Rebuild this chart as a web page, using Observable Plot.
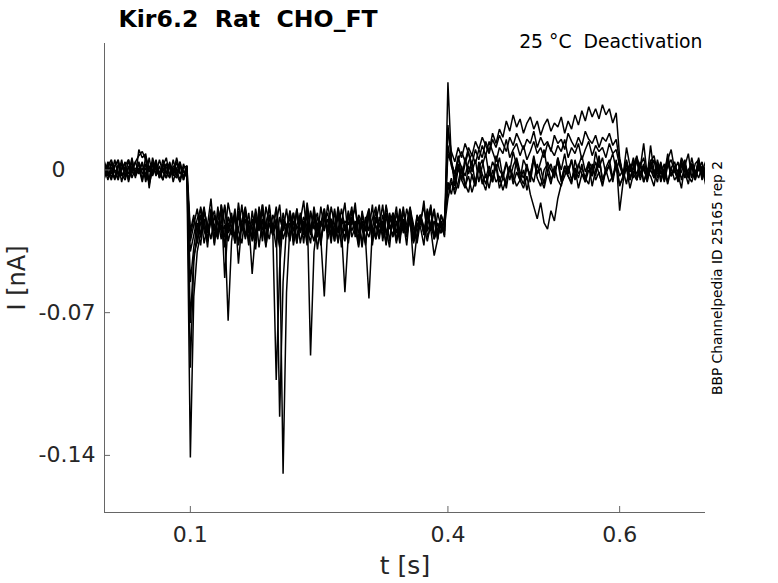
<!DOCTYPE html>
<html>
<head>
<meta charset="utf-8">
<script src="https://cdn.jsdelivr.net/npm/d3@7"></script>
<script src="https://cdn.jsdelivr.net/npm/@observablehq/plot@0.6"></script>
<style>
  html, body { margin: 0; padding: 0; background: #fff; }
  svg text { white-space: pre; }
</style>
</head>
<body>
<div id="chart"></div>
<script>
// ---- chart text ----
const title = "Kir6.2  Rat  CHO_FT";
const conditionLabel = "25 °C  Deactivation";
const sourceLabel = "BBP Channelpedia ID 25165 rep 2";
const xLabel = "t [s]";
const yLabel = "I [nA]";

// ---- axes ----
const xDomain = [0, 0.7];
const yDomain = [-0.168, 0.062];
const xTicks = [0.1, 0.4, 0.6];
const yTicks = [0, -0.07, -0.14];

// ---- sampling of each segment (s) ----
const sampleStep = 0.004;
const preStart = 0.0;    // holding
const stepStart = 0.1;   // test pulse
const postStart = 0.4;   // deactivation

// ---- current values (pA) ----
const pre1 = [2,-3,4,-1,-5,3,0,-4,5,-2,1,-6,3,-1,4,-3,2,-5,1,3,-2,-4,2,-1,-3];
const pre2 = [-4,1,-2,5,-3,0,4,-6,2,-1,3,-5,7,1,-2,4,-4,0,3,-3,5,-2,-6,1,2];
const pre3 = [3,-1,-5,2,4,-3,1,-2,6,-4,10,6,8,-9,3,-2,5,-1,-4,2,0,-3,4,-5,1];
const pre4 = [-2,4,1,-4,3,-6,2,5,-1,-3,4,-2,1,-5,6,0,-3,3,-2,4,-6,1,3,-4,0];
const pre5 = [1,-5,3,0,-2,5,-4,2,-1,4,7,9,5,-7,0,3,-4,2,6,-3,1,-2,4,-5,2];
const pre6 = [-1,3,-4,2,5,-2,-5,1,3,-3,0,4,-6,2,-1,5,-3,1,-4,3,-2,6,-1,-3,2];
const pre7 = [4,-2,0,-5,2,3,-3,5,-4,1,-1,3,-2,-6,4,1,-3,5,-1,-4,2,0,-5,3,-2];
const pre8 = [-3,2,5,-1,-4,1,3,-5,0,4,-2,1,-4,6,-3,2,-1,-5,3,1,-3,4,-2,0,-4];

const step1 = [-141,-62,-40,-31,-24,-35,-19,-30,-25,-34,-17,-28,-32,-21,-37,-26,-20,-31,-24,-35,-18,-29,-33,-22,-27,-38,-23,-30,-19,-32,-25,-36,-21,-28,-34,-20,-29,-26,-37,-22,-31,-18,-27,-35,-24,-30,-20,-33,-28,-23,-36,-25,-19,-31,-27,-34,-22,-29,-38,-21,-26,-32,-24,-30,-19,-35,-28,-23,-31,-26,-20,-34,-29,-25,-33];
const step2 = [-97,-45,-30,-22,-36,-27,-14,-33,-25,-19,-38,-28,-21,-34,-16,-29,-24,-37,-20,-31,-26,-17,-35,-23,-30,-18,-32,-149,-60,-27,-21,-36,-25,-15,-33,-28,-22,-39,-26,-19,-31,-24,-35,-18,-29,-33,-21,-27,-16,-34,-25,-30,-20,-37,-23,-28,-17,-32,-26,-21,-35,-29,-18,-31,-24,-36,-22,-27,-15,-33,-28,-20,-34,-25,-30];
const step3 = [-75,-42,-35,-26,-18,-31,-23,-37,-20,-28,-33,-16,-25,-36,-22,-30,-19,-34,-27,-21,-38,-24,-29,-17,-32,-26,-121,-55,-28,-22,-35,-19,-30,-25,-37,-21,-27,-33,-18,-29,-24,-36,-20,-31,-26,-16,-34,-23,-28,-38,-22,-30,-19,-35,-25,-27,-32,-17,-29,-24,-36,-21,-31,-26,-18,-33,-23,-28,-37,-20,-30,-25,-34,-22,-27];
const step4 = [-55,-38,-26,-33,-20,-29,-24,-36,-18,-31,-27,-74,-35,-22,-30,-17,-34,-25,-28,-39,-21,-32,-26,-19,-30,-103,-48,-24,-33,-20,-37,-27,-22,-31,-16,-29,-35,-23,-28,-19,-34,-26,-30,-21,-38,-25,-27,-18,-33,-24,-29,-36,-20,-31,-26,-17,-35,-23,-28,-32,-21,-30,-25,-37,-19,-27,-34,-22,-29,-24,-18,-33,-26,-31,-23];
const step5 = [-40,-32,-24,-19,-30,-35,-21,-27,-33,-17,-53,-26,-31,-22,-36,-25,-18,-29,-34,-23,-28,-20,-37,-26,-30,-19,-33,-24,-27,-35,-21,-29,-25,-32,-18,-91,-40,-26,-34,-22,-28,-31,-19,-36,-24,-27,-33,-20,-29,-25,-38,-23,-30,-17,-34,-26,-28,-21,-35,-24,-31,-19,-27,-33,-22,-29,-36,-25,-18,-30,-26,-34,-21,-28,-32];
const step6 = [-30,-22,-36,-18,-28,-33,-25,-20,-31,-27,-37,-23,-29,-19,-46,-26,-32,-21,-35,-24,-30,-17,-28,-34,-22,-27,-38,-25,-31,-20,-29,-33,-23,-36,-18,-30,-26,-21,-34,-62,-28,-24,-32,-19,-27,-35,-22,-30,-25,-37,-20,-29,-33,-24,-18,-31,-26,-36,-21,-28,-34,-23,-30,-19,-27,-35,-25,-22,-32,-29,-17,-33,-26,-31,-24];
const step7 = [-35,-27,-19,-32,-24,-38,-21,-29,-34,-17,-26,-31,-23,-36,-20,-28,-33,-25,-51,-30,-22,-35,-18,-27,-32,-24,-37,-21,-29,-26,-34,-19,-31,-23,-28,-36,-20,-33,-25,-30,-17,-27,-35,-22,-29,-60,-32,-24,-19,-31,-26,-37,-21,-28,-34,-23,-30,-18,-27,-33,-25,-36,-20,-29,-24,-47,-31,-22,-28,-35,-26,-19,-32,-27,-30];
const step8 = [-32,-24,-29,-37,-20,-27,-34,-22,-31,-26,-18,-35,-28,-23,-30,-36,-21,-27,-33,-19,-29,-25,-38,-22,-31,-26,-17,-34,-28,-24,-30,-20,-36,-27,-23,-32,-18,-29,-35,-25,-21,-33,-27,-30,-19,-28,-36,-24,-31,-22,-26,-34,-63,-29,-20,-32,-25,-37,-23,-28,-18,-33,-26,-30,-21,-35,-27,-24,-31,-19,-29,-42,-34,-22,-28];

const post1 = [43,5,-8,3,-5,6,-2,4,-7,1,5,-4,2,-6,7,0,-3,4,-5,2,6,-1,-4,3,-6,5,-2,1,-7,4,0,-3,6,-5,2,-1,5,-4,3,-2,-6,4,1,-3,7,-5,0,2,-4,5,-20,-6,3,-1,4,-5,2,6,-3,0,-4,5,-2,3,-6,1,4,-3,-1,5,-4,2,-5,3,0,-2];
const post2 = [12,2,-4,6,1,-3,4,8,3,10,6,14,9,18,13,20,16,24,19,27,21,25,18,23,26,20,24,17,22,25,19,23,21,26,18,24,20,27,22,29,24,31,26,30,25,32,27,30,23,28,6,-3,4,-5,2,7,-2,3,-6,1,5,-4,2,-1,6,-3,0,4,-5,2,-2,3,-4,1,-3,2];
const post3 = [8,3,-2,5,9,4,11,7,14,10,16,12,8,15,11,17,13,9,16,12,18,14,10,15,13,19,11,16,12,14,9,17,13,15,10,18,14,11,16,12,19,15,13,17,11,16,14,18,12,15,4,-2,5,-4,1,6,-3,2,-5,3,0,-2,4,-6,2,5,-1,-4,3,1,-3,6,-2,0,4,-5];
const post4 = [-10,-4,-12,-6,2,-8,-3,-11,-5,1,-7,-2,-9,0,-6,-3,-10,-4,2,-7,-1,-5,-9,-3,-12,-18,-24,-16,-26,-29,-20,-25,-14,-7,-3,2,-5,1,-4,3,-6,0,-3,4,-2,-7,1,5,-4,2,-8,-3,3,-5,1,-2,4,-6,0,3,-4,2,-1,-5,5,-3,1,-6,2,0,-4,3,-2,4,-5,1];
const post5 = [20,9,4,11,6,13,8,3,10,5,12,7,14,9,4,11,8,15,6,10,13,7,12,5,9,14,8,11,6,13,10,7,12,9,15,6,11,8,13,5,10,14,7,12,9,11,6,13,8,10,2,-3,4,-1,6,-5,2,0,-4,5,-2,3,-6,1,4,-3,2,-1,5,-4,0,3,-5,2,-2,1];
const post6 = [-6,-12,-3,-9,0,-7,-11,-2,-8,3,-5,-10,-1,-6,2,-9,-4,-7,1,-3,-8,-5,0,-10,-2,-6,3,-4,-9,-1,-7,2,-5,-8,0,-3,-6,1,-9,-2,-4,-7,3,-5,-1,-8,0,-6,-3,2,-7,-4,1,-9,-2,-5,3,-6,-1,-3,-8,2,-4,0,-7,1,-5,-2,-9,3,-3,-6,0,-4,2,-7];
const post7 = [22,4,-2,7,-5,3,9,-1,5,-6,2,8,-3,4,0,6,-4,3,-1,9,2,-5,5,1,-3,7,-2,4,10,-1,3,-4,6,0,8,-2,5,-5,2,7,-1,4,-3,9,1,6,-2,3,8,0,5,-3,11,2,-4,6,1,13,-2,4,7,-1,3,-5,5,10,0,-3,6,2,8,-4,3,5,-1,4];
const post8 = [-14,-6,-10,1,-5,-9,2,-3,-8,4,-2,-7,0,-4,3,-6,-1,-9,2,-5,5,-3,-7,1,-2,6,-4,-8,0,3,-5,-1,4,-6,2,-3,-7,5,-2,1,-4,3,-8,0,6,-5,-1,2,-6,4,-3,0,-7,3,-2,5,-5,1,-4,12,-1,-6,3,-3,8,-2,0,-5,4,-1,-7,2,-3,6,-4,1];

const sweeps = [
  [pre1, step1, post1], [pre2, step2, post2], [pre3, step3, post3], [pre4, step4, post4],
  [pre5, step5, post5], [pre6, step6, post6], [pre7, step7, post7], [pre8, step8, post8]
];
const segmentStarts = [preStart, stepStart, postStart];

// build the long table: one row per sample
const rows = [];
sweeps.forEach((segs, s) => {
  segs.forEach((vals, k) => {
    vals.forEach((pA, i) => {
      rows.push({sweep: s, t: segmentStarts[k] + i * sampleStep, v: pA / 1000});
    });
  });
});

const W = 778, H = 583;
const mL = 104, mR = 73, mT = 43, mB = 71;
const plotW = W - mL - mR, plotH = H - mT - mB;
const axisColor = "#666";
const textColor = "#262626";
const tickLen = 6;

const chart = Plot.plot({
  width: W,
  height: H,
  marginLeft: mL,
  marginRight: mR,
  marginTop: mT,
  marginBottom: mB,
  style: {fontFamily: "'DejaVu Sans', sans-serif", color: textColor, background: "#fff"},
  x: {domain: xDomain, axis: null},
  y: {domain: yDomain, axis: null},
  marks: [
    Plot.line(rows, {x: "t", y: "v", z: "sweep", stroke: "#000", strokeWidth: 1.5, strokeLinejoin: "miter", clip: true}),
    // axis lines (left and bottom only)
    Plot.ruleX([xDomain[0]], {stroke: axisColor}),
    Plot.ruleY([yDomain[0]], {stroke: axisColor}),
    // inward ticks
    Plot.tickX(xTicks, {x: d => d, stroke: axisColor, insetTop: plotH - tickLen}),
    Plot.tickY(yTicks, {y: d => d, stroke: axisColor, insetRight: plotW - tickLen}),
    // tick labels
    Plot.axisX(xTicks, {tickSize: 0, tickPadding: 14, fontSize: 22, fill: textColor, tickFormat: d => String(d), label: null}),
    Plot.axisY(yTicks.filter(d => d !== 0), {tickSize: 0, tickPadding: 9, fontSize: 22, fill: textColor, tickFormat: d => d.toFixed(2), label: null}),
    Plot.axisY(yTicks.filter(d => d === 0), {tickSize: 0, tickPadding: 39, fontSize: 22, fill: textColor, tickFormat: d => "0", label: null}),
    // axis labels
    Plot.text([xLabel], {frameAnchor: "bottom", textAnchor: "middle", dy: 53, lineAnchor: "middle", fontSize: 25, fill: textColor}),
    Plot.text([yLabel], {frameAnchor: "left", textAnchor: "middle", dx: -87, rotate: -90, lineAnchor: "middle", fontSize: 24, fill: textColor}),
    // title and annotations
    Plot.text([title], {frameAnchor: "top-left", textAnchor: "start", dx: 14, dy: -24, lineAnchor: "middle", fontSize: 23.6, fontWeight: "bold", fill: "#000"}),
    Plot.text([conditionLabel], {frameAnchor: "top-right", textAnchor: "end", dx: -3, dy: -1.5, lineAnchor: "middle", fontSize: 18.8, fill: "#000"}),
    Plot.text([sourceLabel], {frameAnchor: "right", textAnchor: "middle", dx: 12, rotate: -90, lineAnchor: "middle", fontSize: 13.8, fill: "#000"})
  ]
});

document.getElementById("chart").appendChild(chart);
</script>
</body>
</html>
